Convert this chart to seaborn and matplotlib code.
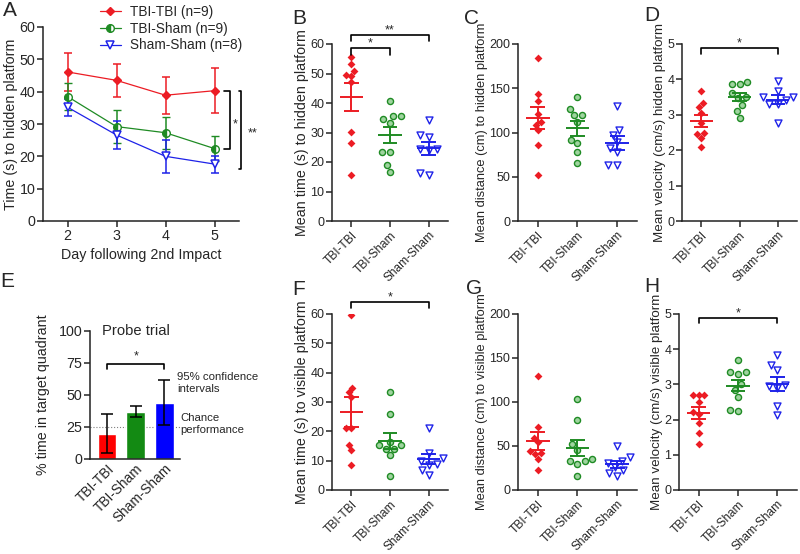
import matplotlib
matplotlib.use("Agg")
import matplotlib.pyplot as plt
from matplotlib import font_manager
from matplotlib.lines import Line2D
import numpy as np
import seaborn as sns

groups = ["TBI-TBI", "TBI-Sham", "Sham-Sham"]
legend_labels = ["TBI-TBI (n=9)", "TBI-Sham (n=9)", "Sham-Sham (n=8)"]

# A: time to hidden platform per day, mean and SEM
days = [2, 3, 4, 5]
acq_tbi_tbi = [46.1, 43.5, 38.9, 40.3]
acq_tbi_tbi_sem = [5.8, 5.0, 5.7, 6.9]
acq_tbi_sham = [38.5, 29.2, 27.3, 22.4]
acq_tbi_sham_sem = [4.3, 5.2, 4.9, 3.8]
acq_sham_sham = [35.2, 26.6, 20.0, 17.6]
acq_sham_sham_sem = [2.6, 4.2, 5.1, 2.6]

# B-D: hidden platform, one value per animal
hidden_time = [
    [55.5, 53.2, 51.0, 49.3, 49.5, 47.0, 30.3, 26.4, 15.5],
    [40.6, 35.6, 35.7, 34.7, 33.3, 23.5, 23.3, 19.0, 16.7],
    [34.1, 29.0, 28.6, 24.5, 24.5, 24.0, 15.7, 16.4],
]
hidden_dist = [
    [184, 144, 136, 121, 112, 109, 103, 86, 52],
    [140.5, 126.6, 119.4, 119.8, 112, 92, 88, 78, 66],
    [130, 103, 97, 89, 83, 78, 63.6, 63.6],
]
hidden_vel = [
    [3.67, 3.34, 3.21, 3.06, 2.78, 2.45, 2.48, 2.34, 2.10],
    [3.88, 3.88, 3.93, 3.61, 3.49, 3.47, 3.28, 3.11, 2.91],
    [3.95, 3.68, 3.49, 3.49, 3.31, 3.31, 3.42, 2.76],
]

# F-H: visible platform
visible_time = [
    [59.8, 34.8, 33.3, 31.6, 21.0, 21.0, 15.3, 13.6, 8.6],
    [33.3, 25.8, 16.5, 15.5, 15.2, 14.0, 14.0, 11.9, 4.9],
    [21.0, 12.5, 11.0, 10.0, 9.0, 8.5, 6.8, 5.0],
]
visible_dist = [
    [130, 72, 59, 54.5, 44, 41.7, 40.5, 35, 22.7],
    [103, 79.5, 52, 46, 35, 33.3, 33, 29.5, 16],
    [50, 37, 33, 31, 26.5, 22.7, 19, 16],
]
visible_vel = [
    [2.70, 2.70, 2.70, 2.50, 2.21, 2.16, 1.90, 1.61, 1.32],
    [3.69, 3.35, 3.35, 3.30, 3.00, 2.85, 2.65, 2.27, 2.25],
    [3.84, 3.56, 3.40, 2.99, 2.95, 2.89, 2.39, 2.12],
]

# E: probe trial, mean with 95% CI
probe_pct = [19.5, 37.0, 44.0]
probe_ci_lo = [4.4, 33.0, 26.6]
probe_ci_hi = [34.9, 41.4, 61.7]
chance = 25

red, green, blue = "#ec1c24", "#1f8b24", "#1e22e8"
group_colors = [red, green, blue]
bar_colors = ["#ff0000", "#138a13", "#0000ff"]

sns.set_theme(style="ticks")
installed = {f.name for f in font_manager.fontManager.ttflist}
if "Liberation Sans Narrow" in installed:
    plt.rcParams["font.family"] = ["Liberation Sans Narrow", "Liberation Sans", "DejaVu Sans"]
    k = 1.0
else:
    plt.rcParams["font.family"] = ["Liberation Sans", "DejaVu Sans"]
    k = 0.82
plt.rcParams.update({
    "axes.linewidth": 1.1, "axes.edgecolor": "#222222",
    "xtick.major.width": 1.1, "ytick.major.width": 1.1,
    "xtick.major.size": 4, "ytick.major.size": 4,
    "xtick.major.pad": 2, "ytick.major.pad": 1.5,
    "xtick.labelsize": 10.4 * k, "ytick.labelsize": 11 * k,
    "axes.labelsize": 11 * k,
})

W, H = 800, 554
fig = plt.figure(figsize=(8, 5.54), dpi=100)


def add_ax(l, t, r, b):
    return fig.add_axes([l / W, 1 - b / H, (r - l) / W, (b - t) / H])


def bracket(ax, x0, x1, y, drop, label, ty):
    ax.plot([x0, x0, x1, x1], [y - drop, y, y, y - drop], color="black",
            lw=1.2, clip_on=False)
    ax.text((x0 + x1) / 2, ty, label, ha="center", va="center", fontsize=11 * k)


markers = ["D", "o", "v"]
faces = [red, "#9fd49f", "white"]
sizes = [4.0, 4.4, 5.0]


def dot_panel(ax, values, top, step, ylabel, lab_fs):
    for i, g in enumerate(groups):
        v = np.array(values[i], dtype=float)
        sns.swarmplot(x=[g] * len(v), y=v, order=groups, ax=ax,
                      marker=markers[i], color=faces[i],
                      edgecolor=group_colors[i], linewidth=1.0 if i else 0,
                      size=sizes[i], zorder=2)
        m = v.mean()
        s = v.std(ddof=1) / np.sqrt(len(v))
        c = group_colors[i]
        ax.hlines(m, i - 0.3, i + 0.3, color=c, lw=1.4, zorder=3)
        ax.hlines([m - s, m + s], i - 0.19, i + 0.19, color=c, lw=1.4, zorder=3)
        ax.vlines(i, m - s, m + s, color=c, lw=1.4, zorder=3)
    ax.set_xlim(-0.5, 2.5)
    ax.set_ylim(0, top)
    ax.set_yticks(np.arange(0, top + step / 2, step))
    ax.set_xticks(range(3))
    ax.set_xticklabels(groups, rotation=45, ha="right", rotation_mode="anchor")
    ax.set_xlabel("")
    ax.set_ylabel(ylabel, labelpad=1, fontsize=lab_fs * k)
    sns.despine(ax=ax)


# ---- A
ax_a = add_ax(43, 27, 239, 221)
styles = [
    dict(marker="D", ms=4.5, mfc=red, mec=red),
    dict(marker="o", ms=5.5, fillstyle="left", mfc=green, mfcalt="white", mec=green, mew=1),
    dict(marker="v", ms=6, mfc="white", mec=blue, mew=1.1),
]
acq_means = [acq_tbi_tbi, acq_tbi_sham, acq_sham_sham]
acq_sems = [acq_tbi_tbi_sem, acq_tbi_sham_sem, acq_sham_sham_sem]
for m, s, c, st in zip(acq_means, acq_sems, group_colors, styles):
    ax_a.errorbar(days, m, yerr=s, color=c, lw=0.9, elinewidth=1.1,
                  capsize=3, capthick=1.1, **st)
ax_a.set_xlim(1.5, 5.5)
ax_a.set_ylim(0, 60)
ax_a.set_xticks(days)
ax_a.set_yticks(range(0, 61, 10))
ax_a.tick_params(labelsize=12.5 * k)
ax_a.set_xlabel("Day following 2nd Impact", labelpad=3, fontsize=12.5 * k)
ax_a.set_ylabel("Time (s) to hidden platform", labelpad=1, fontsize=12.5 * k)
sns.despine(ax=ax_a)
ax_a.plot([5.19, 5.31, 5.31, 5.19], [40.3, 40.3, 22.3, 22.3], color="black", lw=1.2, clip_on=False)
ax_a.plot([5.5, 5.55, 5.55, 5.5], [40.3, 40.3, 16, 16], color="black", lw=1.2, clip_on=False)
ax_a.text(5.42, 30, "*", ha="center", va="center", fontsize=11 * k)
ax_a.text(5.78, 27, "**", ha="center", va="center", fontsize=11 * k, clip_on=False)
handles = [Line2D([0], [0], color=c, lw=0.9, **st) for c, st in zip(group_colors, styles)]
fig.legend(handles, legend_labels, loc="upper left", bbox_to_anchor=(100 / W, 1 - 5 / H),
           frameon=False, fontsize=12 * k, handlelength=1.5, handletextpad=0.7,
           labelspacing=0.2, borderaxespad=0, borderpad=0)

# ---- B, C, D
ax_b = add_ax(332, 44, 448, 221)
dot_panel(ax_b, hidden_time, 60, 10, "Mean time (s) to hidden platform", 12.5)
bracket(ax_b, 0, 1, 58.6, 2.3, "*", 60.2)
bracket(ax_b, 0, 2, 63.2, 2.3, "**", 64.6)

ax_c = add_ax(518, 44, 637, 221)
dot_panel(ax_c, hidden_dist, 200, 50, "Mean distance (cm) to hidden platform", 11.3)

ax_d = add_ax(682, 44, 797, 221)
dot_panel(ax_d, hidden_vel, 5, 1, "Mean velocity (cm/s) hidden platform", 11.7)
bracket(ax_d, 0, 2, 4.89, 0.17, "*", 5.02)

# ---- E
ax_e = add_ax(90, 331, 180, 459)
ax_e.axhline(chance, color="gray", ls=":", lw=0.8, zorder=0.5)
sns.barplot(x=groups, y=probe_pct, hue=groups, palette=bar_colors, width=0.65,
            saturation=1, legend=False, errorbar=None, ax=ax_e, zorder=2)
ax_e.errorbar(range(3), probe_pct,
              yerr=[np.subtract(probe_pct, probe_ci_lo), np.subtract(probe_ci_hi, probe_pct)],
              fmt="none", ecolor="black", elinewidth=1.1, capsize=4, capthick=1.1, zorder=3)
ax_e.set_xlim(-0.6, 2.55)
ax_e.set_ylim(0, 100)
ax_e.set_yticks([0, 25, 50, 75, 100])
ax_e.tick_params(axis="x", length=0, labelsize=12 * k)
ax_e.tick_params(axis="y", labelsize=12.5 * k)
ax_e.set_xticks(range(3))
ax_e.set_xticklabels(groups, rotation=45, ha="right", rotation_mode="anchor")
ax_e.set_ylabel("% time in target quadrant", labelpad=6, fontsize=12.5 * k)
sns.despine(ax=ax_e)
bracket(ax_e, 0, 2, 74, 4, "*", 80)
ax_e.text(0.13, 1.0, "Probe trial", transform=ax_e.transAxes, va="center", fontsize=13 * k)
fig.text(177 / W, 1 - 383 / H, "95% confidence\nintervals", va="center", fontsize=10 * k, linespacing=1.2)
fig.text(180 / W, 1 - 424 / H, "Chance\nperformance", va="center", fontsize=10 * k, linespacing=1.2)

# ---- F, G, H
ax_f = add_ax(332, 314, 448, 490)
dot_panel(ax_f, visible_time, 60, 10, "Mean time (s) to visible platform", 12.5)
bracket(ax_f, 0, 2, 64, 2, "*", 65.6)

ax_g = add_ax(518, 314, 637, 490)
dot_panel(ax_g, visible_dist, 200, 50, "Mean distance (cm) to visible platform", 11.3)

ax_h = add_ax(679, 314, 797, 490)
dot_panel(ax_h, visible_vel, 5, 1, "Mean velocity (cm/s) visible platform", 11.7)
bracket(ax_h, 0, 2, 4.9, 0.16, "*", 5.03)

# panel letters
for letter, x, y in [("A", 3, 1), ("B", 292, 9), ("C", 464, 9), ("D", 644, 6),
                     ("E", 0, 272), ("F", 292, 280), ("G", 466, 279), ("H", 644, 277)]:
    fig.text(x / W, 1 - y / H, letter, fontsize=15, va="top", ha="left",
             family=["Liberation Sans", "DejaVu Sans"])

fig.savefig("out.png", dpi=100)
